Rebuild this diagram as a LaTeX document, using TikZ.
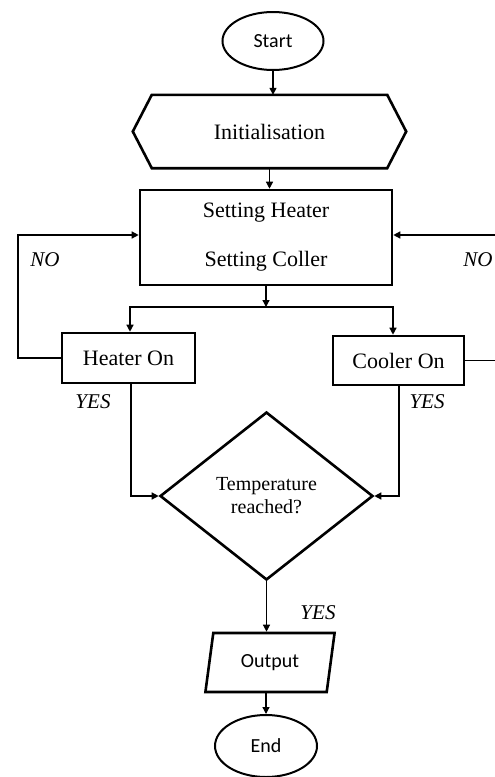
\documentclass[tikz,border=0pt]{standalone}
\usepackage{fontspec}
\setmainfont{Liberation Serif}
\newfontfamily\sansf{Carlito}
\usetikzlibrary{shapes.geometric,arrows.meta}
\tikzset{
  box/.style={draw, line width=2.6pt, inner sep=0pt, font=\fontsize{22}{26}\selectfont},
  term/.style={draw, ellipse, line width=2pt, inner sep=0pt, font=\sansf\fontsize{20}{24}\selectfont},
  conn/.style={line width=1.3pt, -{Triangle[length=7pt,width=7pt]}},
  lbl/.style={font=\itshape\fontsize{21}{24}\selectfont, inner sep=0pt},
}
\begin{document}
\begin{tikzpicture}[x=1pt,y=-1pt]
\useasboundingbox (0,0) rectangle (495,777);
\node[term, minimum width=101pt, minimum height=58pt] (start) at (273,41) {Start};
\node[inner sep=0pt, minimum width=235pt, minimum height=73pt, font=\fontsize{22}{26}\selectfont] (init) at (269.5,131.5) {Initialisation};
\draw[line width=2.6pt, line join=miter] (init.north west) -- (init.north east) -- ([xshift=19pt]init.east) -- (init.south east) -- (init.south west) -- ([xshift=-19pt]init.west) -- cycle;
\node[box, minimum width=252pt, minimum height=95pt, align=center] (set) at (266,237.5) {Setting Heater\\[23pt]Setting Coller};
\node[box, minimum width=133pt, minimum height=50pt] (heater) at (128.5,358) {Heater On};
\node[box, minimum width=131pt, minimum height=49pt] (cooler) at (398.5,360.5) {Cooler On};
\node[draw, diamond, line width=2.6pt, inner sep=0pt, minimum width=213pt, minimum height=168pt, align=center, font=\fontsize{20}{23}\selectfont] (temp) at (266.5,496) {Temperature\\reached?};
\node[draw, trapezium, trapezium stretches=true, trapezium left angle=76, trapezium right angle=104, line width=2.6pt, inner sep=0pt, minimum width=130pt, minimum height=59pt, font=\sansf\fontsize{20}{24}\selectfont] (out) at (270,662.5) {Output};
\node[term, minimum width=102pt, minimum height=62pt] (end) at (266,746) {End};

\coordinate (split) at (266,307);
\coordinate (ll) at (18,357);
\coordinate (rr) at (502,360);

\draw[conn] (start) -- (start |- init.north);
\draw[conn] (init) -- (init.south |- set.north);
\draw[conn] (set.south) -- (split);
\draw[conn] (split) -| ([xshift=1.5pt]heater.north);
\draw[conn] (split) -| ([xshift=-5.5pt]cooler.north);
\draw[conn] (heater.west) -- (heater.west -| ll) |- ([yshift=2.5pt]set.west);
\draw[conn] (cooler.east) -- (cooler.east -| rr) |- ([yshift=2.5pt]set.east);
\draw[conn] ([xshift=2.5pt]heater.south) |- (temp.west);
\draw[conn] ([xshift=0.5pt]cooler.south) |- (temp.east);
\draw[conn] (temp.south) -- (temp.south |- out.north);
\draw[conn] (out.south -| end.north) -- (end.north);

\node[lbl] (no1) at (45,260) {NO};
\node[lbl] (no2) at (478,260) {NO};
\node[lbl] (yes1) at (93,402) {YES};
\node[lbl] (yes2) at (427,402) {YES};
\node[lbl] (yes3) at (318,613) {YES};
\end{tikzpicture}
\end{document}
